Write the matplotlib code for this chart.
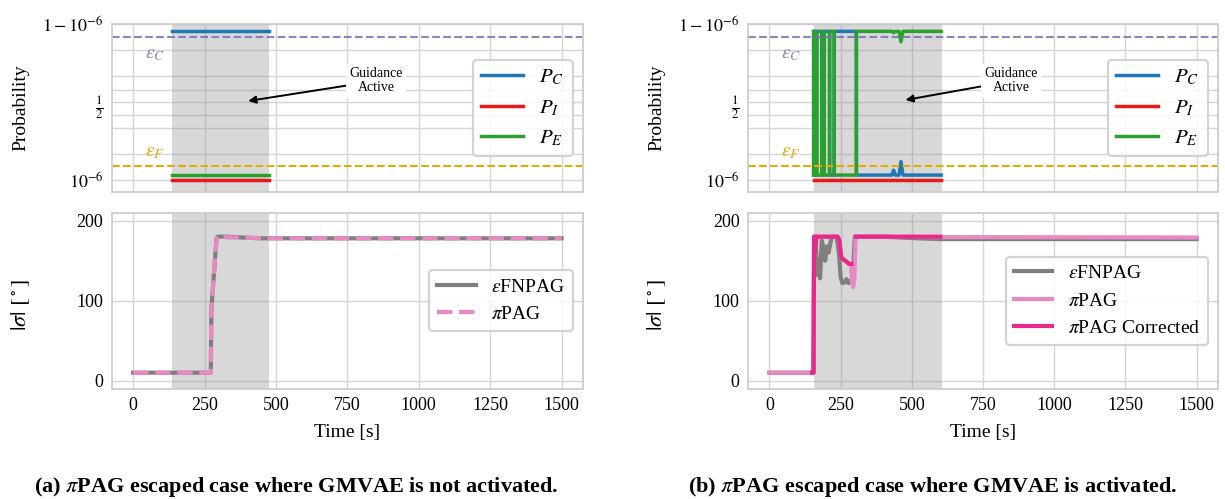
import numpy as np
import matplotlib
matplotlib.use("Agg")
import matplotlib.pyplot as plt
from matplotlib.ticker import FixedLocator, FixedFormatter, NullFormatter

# ---------------- data ----------------
HI = 0.9999965
LO = 2.5e-6
PI_LEVEL = 1e-6
EPS_C = 1 - 1e-5
EPS_F = 1.2e-5

# (a) panel: probabilities during guidance
t_prob_a = [137, 477]
pc_a = [HI, HI]
pi_a = [PI_LEVEL, PI_LEVEL]
pe_a = [LO, LO]
active_a = (137, 477)

# (a) panel: bank angle
t_fn_a = [0, 272, 274, 292, 296, 330, 380, 450, 1500]
sig_fn_a = [10, 10, 90, 178, 180, 180, 179, 178, 178]
t_pi_a = [0, 272, 274, 292, 296, 330, 380, 450, 1500]
sig_pi_a = [10, 10, 90, 178, 181, 179, 179, 178, 178]

# (b) panel: probabilities during guidance
t_prob_b = [155, 156, 166, 167, 184, 185, 192, 193, 211, 212, 227, 228, 305, 306,
            430, 436, 442, 455, 462, 469, 603]
pc_b = [HI, LO, LO, HI, HI, LO, LO, HI, HI, LO, LO, HI, HI, LO,
        LO, 6e-6, LO, LO, 2.7e-5, LO, LO]
pe_b = [LO, HI, HI, LO, LO, HI, HI, LO, LO, HI, HI, LO, LO, HI,
        HI, 0.9999955, HI, HI, 0.999978, HI, HI]
t_pi_b = [155, 603]
pi_b = [PI_LEVEL, PI_LEVEL]
active_b = (155, 605)

# (b) panel: bank angle
t_fn_b = [0, 155, 157, 163, 168, 172, 178, 184, 190, 196, 202, 208, 213, 219, 231, 237,
          244, 250, 256, 265, 271, 278, 285, 292, 300, 310, 400, 520, 600, 1500]
sig_fn_b = [10, 10, 178, 175, 132, 150, 128, 175, 165, 150, 168, 160, 170, 180, 180, 178,
            160, 130, 122, 123, 127, 122, 125, 125, 180, 180, 180, 178, 177, 177]
t_pi_b2 = [0, 155, 157, 159, 161, 163, 165, 168, 240, 246, 252, 258, 270, 280, 287, 290,
           294, 298, 303, 400, 600, 1500]
sig_pi_b = [10, 10, 180, 160, 180, 170, 180, 180, 180, 175, 155, 152, 149, 146, 146, 125,
            117, 125, 180, 180, 179.5, 179]
t_cor_b = [150, 155, 157, 159, 161, 163, 165, 168, 240, 246, 252, 258, 270, 280, 288,
           289, 304, 600]
sig_cor_b = [10, 10, 180, 160, 180, 170, 180, 180, 180, 175, 155, 152, 149, 146, 146,
             np.nan, 180, 180]

x_ticks = [0, 250, 500, 750, 1000, 1250, 1500]
prob_major = [1e-6, 0.5, 1 - 1e-6]
prob_major_labels = [r"$10^{-6}$", r"$\frac{1}{2}$", r"$1-10^{-6}$"]
prob_minor = [1e-4, 1e-2, 0.1, 0.9, 0.99, 0.9999]
sig_ticks = [0, 100, 200]

captions = [r"(a) $\pi$PAG escaped case where GMVAE is not activated.",
            r"(b) $\pi$PAG escaped case where GMVAE is activated."]

# ---------------- style ----------------
plt.rcParams.update({
    "font.family": "serif",
    "font.serif": ["Liberation Serif", "DejaVu Serif"],
    "mathtext.fontset": "stix",
    "axes.edgecolor": "#cccccc",
    "axes.linewidth": 1.25,
    "axes.facecolor": "white",
    "grid.color": "#d6d6d6",
    "grid.linewidth": 1.0,
    "xtick.major.size": 0, "ytick.major.size": 0,
    "xtick.minor.size": 0, "ytick.minor.size": 0,
    "xtick.labelsize": 13, "ytick.labelsize": 13,
    "xtick.major.pad": 6, "ytick.major.pad": 6,
    "legend.edgecolor": "#cccccc",
    "axes.axisbelow": True,
})

C_BLUE = "#1f77b4"
C_RED = "#e41a1c"
C_GREEN = "#2ca02c"
C_PURP = "#7570b3"
C_GOLD = "#e6ab02"
C_GRAY = "#7f7f7f"
C_PINK = "#e78ac3"
C_DPINK = "#e7298a"

W, H = 1225, 499


def rect(x0, x1, y0, y1):
    return [x0 / W, 1 - y1 / H, (x1 - x0) / W, (y1 - y0) / H]


fig = plt.figure(figsize=(W / 100, H / 100), dpi=100)

panels = [
    dict(x0=111.7, x1=583, tprob=t_prob_a, pc=pc_a, pe=pe_a, tpi=t_prob_a, pi=pi_a,
         active=active_a, arrow_x=403, arrow_y=0.557),
    dict(x0=748, x1=1218, tprob=t_prob_b, pc=pc_b, pe=pe_b, tpi=t_pi_b, pi=pi_b,
         active=active_b, arrow_x=478, arrow_y=0.6),
]

for k, p in enumerate(panels):
    axt = fig.add_axes(rect(p["x0"], p["x1"], 24, 192))
    axb = fig.add_axes(rect(p["x0"], p["x1"], 212.7, 388.7), sharex=axt)

    # --- top: probabilities ---
    axt.set_yscale("logit")
    axt.axvspan(*p["active"], color="gray", alpha=0.3, lw=0)
    axt.plot(p["tprob"], p["pc"], color=C_BLUE, lw=2.5, label=r"$P_C$")
    axt.plot(p["tpi"], p["pi"], color=C_RED, lw=2.5, label=r"$P_I$")
    axt.plot(p["tprob"], p["pe"], color=C_GREEN, lw=2.5, label=r"$P_E$")
    axt.axhline(EPS_C, color=C_PURP, ls="--", lw=1.5, alpha=0.85)
    axt.axhline(EPS_F, color=C_GOLD, ls="--", lw=1.5)
    axt.text(75, 1 - 2.0e-4, r"$\varepsilon_C$", color=C_PURP, alpha=0.85, fontsize=14,
             ha="center", va="center")
    axt.text(75, 1.4e-4, r"$\varepsilon_F$", color=C_GOLD, fontsize=14,
             ha="center", va="center")
    axt.set_ylim(1.25e-7, 1 - 9.5e-7)
    axt.yaxis.set_major_locator(FixedLocator(prob_major))
    axt.yaxis.set_major_formatter(FixedFormatter(prob_major_labels))
    axt.yaxis.set_minor_locator(FixedLocator(prob_minor))
    axt.yaxis.set_minor_formatter(NullFormatter())
    axt.grid(True, which="both", axis="y")
    axt.grid(True, which="major", axis="x")
    axt.tick_params(axis="x", labelbottom=False)
    axt.annotate("Guidance\nActive", xy=(p["arrow_x"], p["arrow_y"]), xytext=(850, 0.9775),
                 ha="center", va="center", fontsize=10, linespacing=1.1,
                 bbox=dict(boxstyle="square,pad=0.25", fc="white", ec="none"),
                 arrowprops=dict(arrowstyle="-|>", color="black", lw=1.4, mutation_scale=11,
                                 shrinkA=0, shrinkB=0))
    leg = axt.legend(loc="center right", fontsize=15, framealpha=0.85, borderaxespad=0.5)
    leg.get_frame().set_linewidth(1.6)

    # --- bottom: bank angle ---
    axb.axvspan(*p["active"], color="gray", alpha=0.3, lw=0)
    if k == 0:
        axb.plot(t_fn_a, sig_fn_a, color=C_GRAY, lw=3, label=r"$\varepsilon$FNPAG")
        axb.plot(t_pi_a, sig_pi_a, color=C_PINK, lw=3, ls="--", label=r"$\pi$PAG")
    else:
        axb.plot(t_fn_b, sig_fn_b, color=C_GRAY, lw=3, label=r"$\varepsilon$FNPAG")
        axb.plot(t_pi_b2, sig_pi_b, color=C_PINK, lw=3, label=r"$\pi$PAG")
        axb.plot(t_cor_b, sig_cor_b, color=C_DPINK, lw=3, label=r"$\pi$PAG Corrected")
    axb.set_ylim(-10, 210)
    axb.set_yticks(sig_ticks)
    axb.set_xticks(x_ticks)
    axb.set_xlim(-75, 1575)
    axb.grid(True, which="major")
    leg = axb.legend(loc="center right", fontsize=14, framealpha=0.85, borderaxespad=0.5)
    leg.get_frame().set_linewidth(1.6)

    # labels
    cx = (p["x0"] + p["x1"]) / 2
    ylx = p["x0"] - 91
    fig.text(ylx / W, 1 - 108 / H, "Probability", rotation=90, ha="center", va="center",
             fontsize=14)
    fig.text(ylx / W, 1 - 305 / H, r"$|\sigma|\ [\,^{\circ}\,]$", rotation=90, ha="center",
             va="center", fontsize=16)
    fig.text(cx / W, 1 - 432 / H, "Time [s]", ha="center", va="center", fontsize=14)

fig.text(296 / W, 1 - 487 / H, captions[0], ha="center", va="center", fontsize=16,
         fontweight="bold")
fig.text(933 / W, 1 - 487 / H, captions[1], ha="center", va="center", fontsize=16,
         fontweight="bold")

fig.savefig("out.png", dpi=100)
